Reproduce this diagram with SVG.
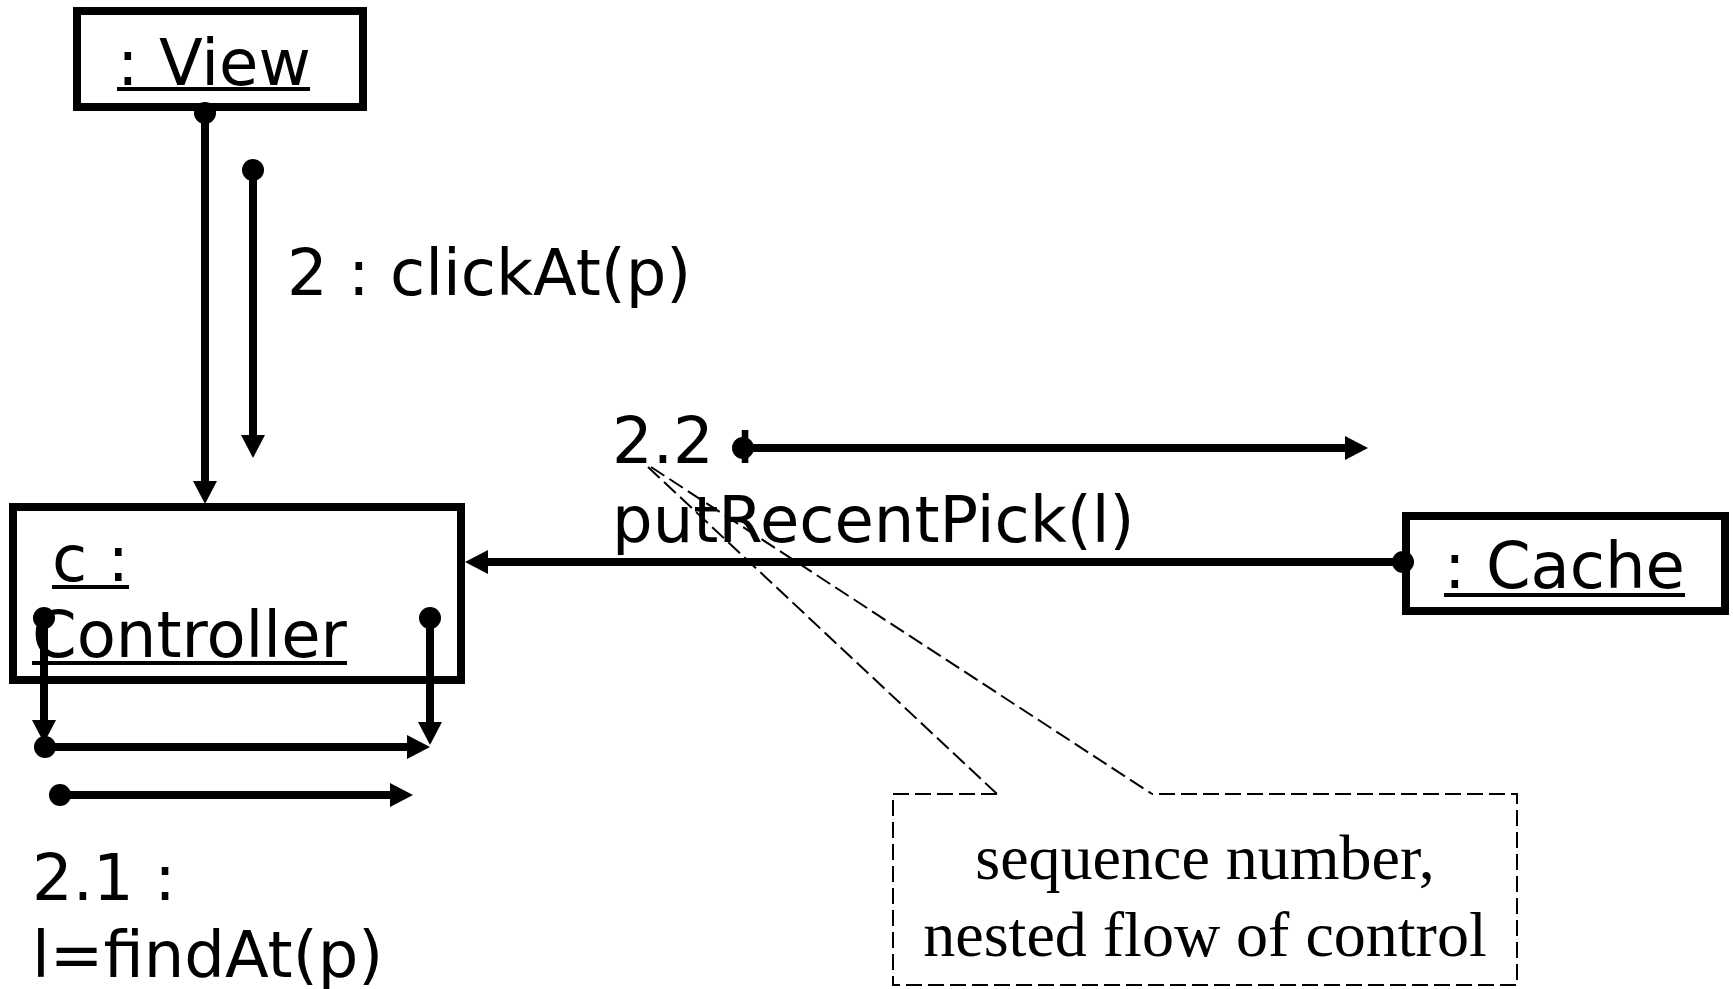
<svg xmlns="http://www.w3.org/2000/svg" width="1733" height="989" viewBox="0 0 1733 989">
  <style>
    .box { fill: #fff; stroke: #000; stroke-width: 8; }
    .lbl { font-family: "DejaVu Sans", Verdana, sans-serif; font-size: 64px; fill: #000; }
    .ul { stroke: #000; stroke-width: 4; }
    .msg { fill: none; stroke: #000; stroke-width: 8; marker-start: url(#dot); marker-end: url(#head); }
    .note { fill: none; stroke: #000; stroke-width: 2; stroke-dasharray: 16 6; }
    .notetxt { font-family: "Liberation Serif", "Times New Roman", serif; font-size: 64px; fill: #000; text-anchor: middle; }
  </style>
  <defs>
    <marker id="head" markerUnits="userSpaceOnUse" markerWidth="24" markerHeight="26" refX="0" refY="12" orient="auto" overflow="visible">
      <path d="M0,0 L23,12 L0,24 Z" fill="#000"/>
    </marker>
    <marker id="dot" markerUnits="userSpaceOnUse" markerWidth="24" markerHeight="24" refX="0" refY="0" orient="auto" overflow="visible">
      <circle cx="0" cy="0" r="11" fill="#000"/>
    </marker>
  </defs>

  <rect width="1733" height="989" fill="#fff"/>

  <!-- object: View -->
  <g id="view">
    <rect class="box" x="77" y="11" width="286" height="96"/>
    <text class="lbl" x="117" y="85">: View</text>
    <line class="ul" x1="117" y1="89" x2="310" y2="89"/>
  </g>

  <!-- object: Controller -->
  <g id="controller">
    <rect class="box" x="13" y="507" width="448" height="173"/>
    <text class="lbl" x="52" y="581">c :</text>
    <line class="ul" x1="52" y1="587" x2="129" y2="587"/>
    <text class="lbl" x="32" y="657">Controller</text>
    <line class="ul" x1="32" y1="663" x2="347" y2="663"/>
  </g>

  <!-- object: Cache -->
  <g id="cache">
    <rect class="box" x="1406" y="516" width="319" height="95"/>
    <text class="lbl" x="1444" y="588">: Cache</text>
    <line class="ul" x1="1444" y1="595" x2="1685" y2="595"/>
  </g>

  <!-- links and messages -->
  <g id="connectors">
    <line class="msg" x1="205" y1="113" x2="205" y2="481"/>
    <line class="msg" x1="253" y1="170" x2="253" y2="435"/>
    <line class="msg" x1="44" y1="618" x2="44" y2="720"/>
    <line class="msg" x1="430" y1="618" x2="430" y2="722"/>
    <line class="msg" x1="45" y1="747" x2="407" y2="747"/>
    <line class="msg" x1="60" y1="795" x2="390" y2="795"/>
    <line class="msg" x1="743" y1="448" x2="1345" y2="448"/>
    <line class="msg" x1="1403" y1="562" x2="488" y2="562"/>
  </g>

  <!-- message labels -->
  <g id="labels">
    <text class="lbl" x="287" y="295">2 : clickAt(p)</text>
    <text class="lbl" x="612" y="463">2.2 :</text>
    <text class="lbl" x="612" y="542">putRecentPick(l)</text>
    <text class="lbl" x="32" y="900">2.1 :</text>
    <text class="lbl" x="32" y="977">l=findAt(p)</text>
  </g>

  <!-- annotation note -->
  <g id="note">
    <path class="note" d="M997,794 L893,794 L893,985 L1517,985 L1517,794 L1152,794"/>
    <path class="note" d="M648,467 L997,794 M651,467 L1152,794"/>
    <text class="notetxt" x="1205" y="879">sequence number,</text>
    <text class="notetxt" x="1205" y="956">nested flow of control</text>
  </g>
</svg>
